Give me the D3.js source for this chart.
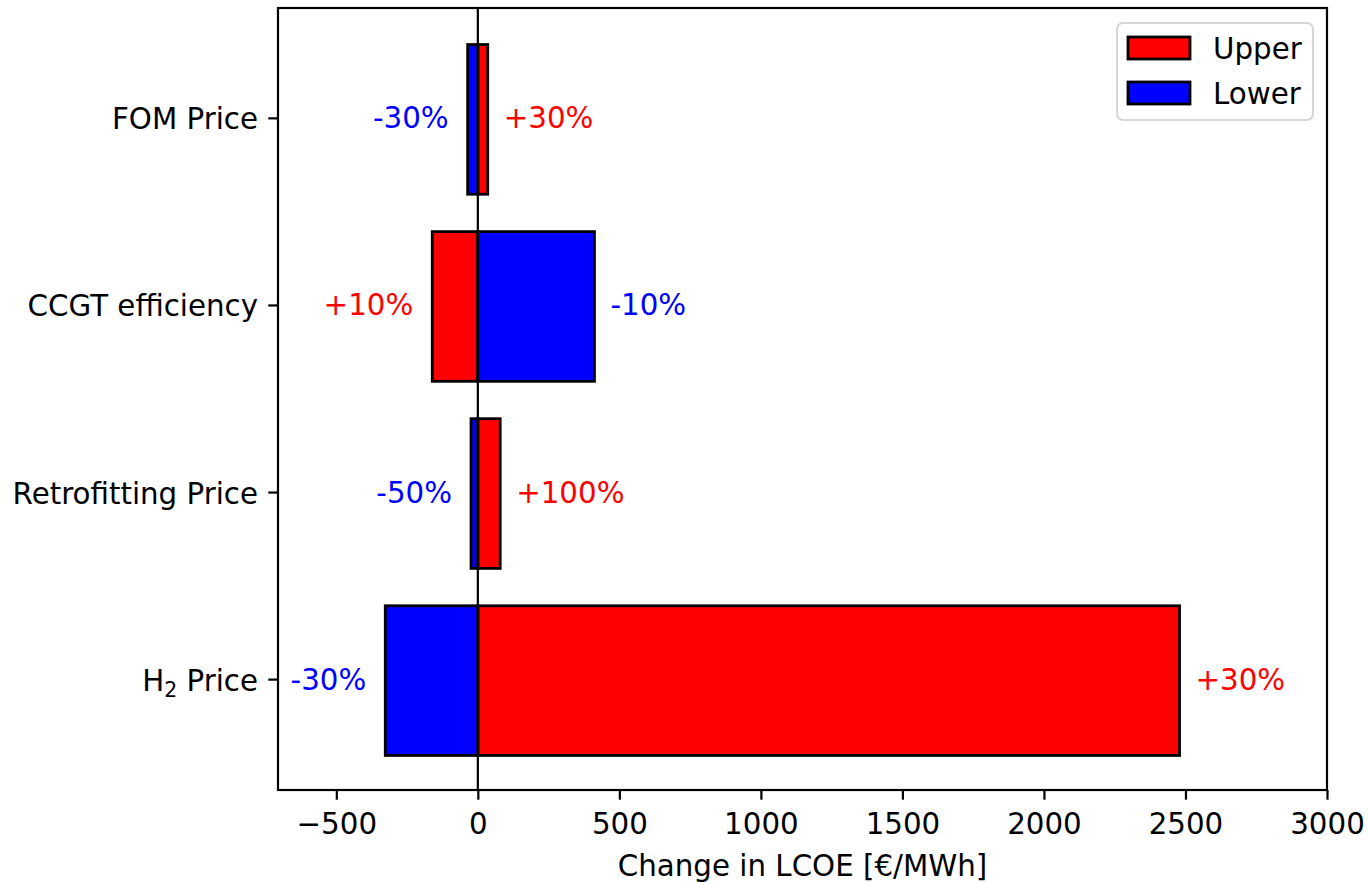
<!DOCTYPE html>
<html>

<head>
  <meta charset="utf-8" />
  <title>LCOE sensitivity</title>
  <style>
    body {
      margin: 0;
      background: #fff;
    }

    svg text {
      font-family: "DejaVu Sans", sans-serif;
    }
  </style>
  <script src="https://cdnjs.cloudflare.com/ajax/libs/d3/7.8.5/d3.min.js"></script>
</head>

<body>
  <div id="chartArea"></div>
  <script>
    // chart values
    var categories = ['FOM Price', 'CCGT efficiency', 'Retrofitting Price', 'H2 Price'];
    var upperValues = [35, -161, 79, 2479];
    var lowerValues = [-36, 412, -24, -327];
    var upperLabels = ['+30%', '+10%', '+100%', '+30%'];
    var lowerLabels = ['-30%', '-10%', '-50%', '-30%'];
    var xTicks = [-500, 0, 500, 1000, 1500, 2000, 2500, 3000];
    var legendNames = ['Upper', 'Lower'];

    var w = 1368,
      h = 882;
    // plot box (note: "top" is reserved on window, so use p* names)
    var pLeft = 278,
      pRight = 1327,
      pTop = 8,
      pBottom = 790;
    var fs = 29.3;
    var upperColor = '#ff0000',
      lowerColor = '#0000ff';

    var xScale = d3.scaleLinear()
      .domain([-706, 3000])
      .range([pLeft, pRight]);

    // matplotlib style: H2 at y=0 at the bottom, FOM at y=3 on top
    var yScale = d3.scaleLinear()
      .domain([-0.59, 3.59])
      .range([pBottom, pTop]);
    var yPos = i => yScale(categories.length - 1 - i);
    var barH = yScale(0) - yScale(0.8);

    var svg = d3.select('#chartArea').append('svg')
      .attr('width', w)
      .attr('height', h);

    // bars
    function drawBars(values, color) {
      svg.append('g').selectAll('rect')
        .data(values)
        .enter()
        .append('rect')
        .attr('x', d => xScale(Math.min(0, d)))
        .attr('width', d => Math.abs(xScale(d) - xScale(0)))
        .attr('y', (d, i) => yPos(i) - barH / 2 + 1)
        .attr('height', barH)
        .attr('fill', color)
        .attr('stroke', '#000')
        .attr('stroke-width', 2.8);
    }
    drawBars(upperValues, upperColor);
    drawBars(lowerValues, lowerColor);

    // zero line
    svg.append('line')
      .attr('x1', xScale(0)).attr('x2', xScale(0))
      .attr('y1', pTop).attr('y2', pBottom)
      .attr('stroke', '#000')
      .attr('stroke-width', 2.2);

    // percentage labels next to the bar ends
    function drawLabels(values, others, labels, color) {
      svg.append('g').selectAll('text')
        .data(values)
        .enter()
        .append('text')
        .attr('x', (d, i) => d >= others[i] ? xScale(d) + 16 : xScale(d) - 19)
        .attr('y', (d, i) => yPos(i) + 10)
        .attr('text-anchor', (d, i) => d >= others[i] ? 'start' : 'end')
        .attr('font-size', fs)
        .attr('fill', color)
        .text((d, i) => labels[i]);
    }
    drawLabels(upperValues, lowerValues, upperLabels, upperColor);
    drawLabels(lowerValues, upperValues, lowerLabels, lowerColor);

    // axes frame
    svg.append('rect')
      .attr('x', pLeft).attr('y', pTop)
      .attr('width', pRight - pLeft).attr('height', pBottom - pTop)
      .attr('fill', 'none')
      .attr('stroke', '#000')
      .attr('stroke-width', 2.2);

    // x axis
    var xAxis = svg.append('g')
      .attr('transform', 'translate(0,' + pBottom + ')')
      .call(d3.axisBottom(xScale)
        .tickValues(xTicks)
        .tickSize(9.7)
        .tickPadding(13)
        .tickFormat(d => d < 0 ? '\u2212' + Math.abs(d) : d));
    xAxis.select('.domain').remove();
    xAxis.selectAll('line').attr('stroke-width', 2.2);
    xAxis.selectAll('text')
      .attr('font-size', fs)
      .attr('font-family', '"DejaVu Sans", sans-serif')
      .attr('fill', '#000');

    // y axis
    var yAxis = svg.append('g')
      .attr('transform', 'translate(' + pLeft + ',0)');
    categories.forEach((c, i) => {
      var y = yPos(i);
      yAxis.append('line')
        .attr('x1', -9.7).attr('x2', 0)
        .attr('y1', y).attr('y2', y)
        .attr('stroke', '#000')
        .attr('stroke-width', 2.2);
      var t = yAxis.append('text')
        .attr('x', -20)
        .attr('y', y + 11)
        .attr('text-anchor', 'end')
        .attr('font-size', fs)
        .attr('fill', '#000');
      if (c === 'H2 Price') {
        t.append('tspan').text('H');
        t.append('tspan').attr('font-size', fs * 0.7).attr('dy', 6).text('2');
        t.append('tspan').attr('dy', -6).text(' Price');
      } else {
        t.text(c);
      }
    });

    // axis title
    svg.append('text')
      .attr('x', (pLeft + pRight) / 2)
      .attr('y', 876)
      .attr('text-anchor', 'middle')
      .attr('font-size', fs)
      .attr('fill', '#000')
      .text('Change in LCOE [\u20ac/MWh]');

    // legend
    var legend = svg.append('g').attr('transform', 'translate(1117,23)');
    legend.append('rect')
      .attr('width', 196).attr('height', 97)
      .attr('rx', 6)
      .attr('fill', '#fff')
      .attr('fill-opacity', 0.8)
      .attr('stroke', '#d6d6d6')
      .attr('stroke-width', 2);
    [upperColor, lowerColor].forEach((col, i) => {
      legend.append('rect')
        .attr('x', 11).attr('y', 14 + i * 45)
        .attr('width', 62).attr('height', 22)
        .attr('fill', col)
        .attr('stroke', '#000')
        .attr('stroke-width', 2.8);
      legend.append('text')
        .attr('x', 96).attr('y', 36 + i * 45)
        .attr('font-size', fs)
        .attr('fill', '#000')
        .text(legendNames[i]);
    });
  </script>
</body>

</html>
